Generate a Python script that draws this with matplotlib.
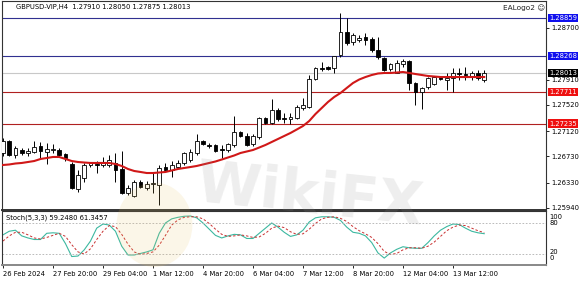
import matplotlib
matplotlib.use('Agg')
import matplotlib.pyplot as plt
import matplotlib.transforms as mtransforms
from matplotlib.patches import Ellipse
import numpy as np

# GBPUSD H4 candles (open, high, low, close)
opens = [1.26783, 1.26967, 1.26752, 1.26829, 1.26783, 1.26798, 1.26890, 1.26798, 1.26829, 1.26829,
         1.26768, 1.26614, 1.26231, 1.26400, 1.26599, 1.26614, 1.26599, 1.26599, 1.26630, 1.26538,
         1.26170, 1.26124, 1.26338, 1.26246, 1.26308, 1.26292, 1.26568, 1.26522, 1.26568, 1.26630,
         1.26676, 1.26783, 1.26967, 1.26906, 1.26906, 1.26844, 1.26829, 1.26906, 1.27105, 1.27044,
         1.26921, 1.27028, 1.27320, 1.27243, 1.27442, 1.27320, 1.27304, 1.27320, 1.27473, 1.27488,
         1.27918, 1.28086, 1.28102, 1.28086, 1.28286, 1.28638, 1.28485, 1.28516, 1.28562, 1.28531,
         1.28362, 1.28240, 1.28071, 1.28010, 1.28148, 1.28194, 1.27856, 1.27718, 1.27795, 1.27841,
         1.27948, 1.27902, 1.27933, 1.28010, 1.27994, 1.27948, 1.28010, 1.27910]
highs = [1.27013, 1.26982, 1.26890, 1.26860, 1.26860, 1.26967, 1.26952, 1.26936, 1.26921, 1.26860,
         1.26783, 1.26645, 1.26522, 1.26630, 1.26645, 1.26660, 1.26722, 1.26752, 1.26783, 1.26814,
         1.26292, 1.26369, 1.26369, 1.26354, 1.26476, 1.26599, 1.26630, 1.26660, 1.26676, 1.26798,
         1.26844, 1.27074, 1.26982, 1.26936, 1.26921, 1.26906, 1.26936, 1.27350, 1.27120, 1.27090,
         1.27074, 1.27335, 1.27335, 1.27611, 1.27473, 1.27396, 1.27396, 1.27519, 1.27626, 1.27979,
         1.28102, 1.28178, 1.28117, 1.28270, 1.28930, 1.28853, 1.28623, 1.28592, 1.28623, 1.28562,
         1.28562, 1.28255, 1.28163, 1.28209, 1.28224, 1.28209, 1.27872, 1.27795, 1.27948, 1.27964,
         1.27964, 1.28010, 1.28086, 1.28086, 1.28102, 1.28040, 1.28056, 1.28050]
lows = [1.26737, 1.26737, 1.26706, 1.26752, 1.26737, 1.26783, 1.26706, 1.26614, 1.26783, 1.26737,
        1.26660, 1.26231, 1.26185, 1.26338, 1.26568, 1.26476, 1.26568, 1.26568, 1.26338, 1.26154,
        1.26139, 1.26108, 1.26246, 1.26216, 1.26170, 1.25986, 1.26507, 1.26415, 1.26553, 1.26599,
        1.26645, 1.26752, 1.26906, 1.26860, 1.26798, 1.26706, 1.26798, 1.26875, 1.27028, 1.26890,
        1.26890, 1.26998, 1.27228, 1.27228, 1.27274, 1.27243, 1.27228, 1.27304, 1.27442, 1.27473,
        1.27902, 1.28040, 1.28056, 1.28010, 1.28255, 1.28439, 1.28439, 1.28485, 1.28439, 1.28332,
        1.28224, 1.28040, 1.28040, 1.28010, 1.28102, 1.27749, 1.27519, 1.27458, 1.27765, 1.27826,
        1.27902, 1.27749, 1.27718, 1.27902, 1.27902, 1.27902, 1.27902, 1.27875]
closes = [1.26967, 1.26752, 1.26860, 1.26783, 1.26814, 1.26875, 1.26814, 1.26844, 1.26844, 1.26752,
          1.26706, 1.26246, 1.26446, 1.26599, 1.26630, 1.26599, 1.26645, 1.26676, 1.26522, 1.26170,
          1.26246, 1.26338, 1.26262, 1.26308, 1.26323, 1.26553, 1.26522, 1.26599, 1.26630, 1.26783,
          1.26798, 1.26967, 1.26921, 1.26890, 1.26814, 1.26829, 1.26921, 1.27105, 1.27044, 1.26906,
          1.27044, 1.27320, 1.27243, 1.27442, 1.27304, 1.27304, 1.27335, 1.27488, 1.27519, 1.27918,
          1.28086, 1.28071, 1.28071, 1.28270, 1.28638, 1.28470, 1.28592, 1.28546, 1.28516, 1.28362,
          1.28255, 1.28056, 1.28148, 1.28163, 1.28194, 1.27856, 1.27718, 1.27780, 1.27933, 1.27948,
          1.27918, 1.27933, 1.28010, 1.27994, 1.27985, 1.28010, 1.27933, 1.28013]

# red moving average
ma = [1.26599, 1.26607, 1.26622, 1.26630, 1.26645, 1.26660, 1.26691, 1.26706, 1.26722, 1.26722,
      1.26691, 1.26660, 1.26645, 1.26637, 1.26630, 1.26630, 1.26630, 1.26630, 1.26614, 1.26584,
      1.26538, 1.26507, 1.26492, 1.26476, 1.26476, 1.26484, 1.26492, 1.26515, 1.26538, 1.26553,
      1.26568, 1.26584, 1.26607, 1.26630, 1.26653, 1.26683, 1.26714, 1.26745, 1.26783, 1.26806,
      1.26829, 1.26867, 1.26906, 1.26952, 1.26998, 1.27044, 1.27090, 1.27143, 1.27197, 1.27274,
      1.27381, 1.27473, 1.27565, 1.27642, 1.27703, 1.27780, 1.27856, 1.27910, 1.27948, 1.27979,
      1.28002, 1.28010, 1.28010, 1.28017, 1.28025, 1.28010, 1.27994, 1.27979, 1.27964, 1.27956,
      1.27948, 1.27948, 1.27948, 1.27948, 1.27948, 1.27948, 1.27948, 1.27948]

# Stochastic (5,3,3)
stoch_k = [57, 64, 66, 55, 51, 48, 48, 60, 61, 60, 40, 15, 16, 28, 45, 70, 78, 76, 64, 35,
           18, 18, 21, 24, 28, 60, 80, 88, 91, 93, 93.5, 90, 80, 68, 56, 51, 55, 58, 57, 50,
           50, 60, 70, 80, 72, 62, 54, 57, 66, 82, 90, 92, 92, 91, 85, 72, 62, 60, 55, 42,
           22, 12, 22, 29, 34, 32, 31, 31, 42, 55, 66, 73, 78, 77, 70, 64, 61, 59.248]
stoch_d = [45, 55, 62, 62, 57, 51, 49, 52, 56, 60, 54, 38, 24, 20, 30, 48, 64, 75, 73, 58,
           39, 24, 19, 21, 24, 37, 56, 76, 86, 91, 92, 92, 88, 79, 68, 58, 54, 55, 57, 55,
           52, 53, 60, 70, 74, 71, 63, 58, 59, 68, 79, 88, 91, 92, 89, 83, 73, 65, 59, 52,
           40, 25, 19, 21, 28, 32, 32, 31, 35, 43, 54, 65, 72, 76, 75, 70, 65, 61.3457]

date_pos = [0, 8, 16, 24, 32, 40, 48, 56, 64, 72]
date_labels = ['26 Feb 2024', '27 Feb 20:00', '29 Feb 04:00', '1 Mar 12:00', '4 Mar 20:00',
               '6 Mar 04:00', '7 Mar 12:00', '8 Mar 20:00', '12 Mar 04:00', '13 Mar 12:00']

price_ticks = [1.28700, 1.27910, 1.27520, 1.27120, 1.26730, 1.26330, 1.25940]
blue_levels = [1.28859, 1.28268]
red_levels = [1.27711, 1.27235]
last_price = 1.28013

fs = 4.9
fig = plt.figure(figsize=(5.83, 2.81), dpi=100)
ax = fig.add_axes([0.0034, 0.2527, 0.9331, 0.7438])
ax2 = fig.add_axes([0.0034, 0.0569, 0.9331, 0.1922], sharex=ax)

x = np.arange(len(opens))
o = np.array(opens); c = np.array(closes)
ax.vlines(x, lows, highs, color='black', lw=0.7, zorder=2)
up = c >= o
body = np.maximum(np.abs(c - o), 0.00003)
ax.bar(x[up], body[up], bottom=np.minimum(o, c)[up], width=0.58, color='white',
       edgecolor='black', lw=0.6, zorder=3)
ax.bar(x[~up], body[~up], bottom=np.minimum(o, c)[~up], width=0.58, color='black',
       edgecolor='black', lw=0.6, zorder=3)
ax.plot(x, ma, color='#d01818', lw=1.5, zorder=4)

for lv in blue_levels:
    ax.axhline(lv, color='#303090', lw=0.8, zorder=1)
for lv in red_levels:
    ax.axhline(lv, color='#b02020', lw=0.8, zorder=1)
ax.axhline(last_price, color='#c8c8c8', lw=0.8, zorder=1)

ax.set_xlim(-0.16, 86.88)
ax.set_ylim(1.25909, 1.29114)
ax.yaxis.tick_right()
ax.set_yticks(price_ticks)
ax.set_yticklabels(['%.5f' % t for t in price_ticks])
ax.tick_params(axis='y', labelsize=fs, length=2, width=0.6, pad=1.5)
ax.tick_params(axis='x', bottom=False, labelbottom=False)
for s in ax.spines.values():
    s.set_linewidth(0.8)
    s.set_color('#333333')
ax.spines['bottom'].set_linewidth(1.4)

tr = mtransforms.blended_transform_factory(ax.transAxes, ax.transData)
for lv in blue_levels:
    ax.text(1.006, lv, '%.5f' % lv, transform=tr, fontsize=fs, color='white', va='center',
            ha='left', bbox=dict(boxstyle='square,pad=0.15', fc='#1010ee', ec='none'), zorder=6)
for lv in red_levels:
    ax.text(1.006, lv, '%.5f' % lv, transform=tr, fontsize=fs, color='white', va='center',
            ha='left', bbox=dict(boxstyle='square,pad=0.15', fc='#ee1010', ec='none'), zorder=6)
ax.text(1.006, last_price, '%.5f' % last_price, transform=tr, fontsize=fs, color='white',
        va='center', ha='left', bbox=dict(boxstyle='square,pad=0.15', fc='black', ec='none'),
        zorder=6)

ax.text(0.025, 0.985, 'GBPUSD-VIP,H4  1.27910 1.28050 1.27875 1.28013', transform=ax.transAxes,
        fontsize=fs, va='top', ha='left')
ax.text(0.998, 0.985, 'EALogo2 \u263a', transform=ax.transAxes, fontsize=fs + 0.4, va='top',
        ha='right', color='#222222')

# stochastic panel
ax2.plot(x, stoch_k, color='#3cb8a0', lw=0.8)
ax2.plot(x, stoch_d, color='#c83030', lw=0.7, ls=(0, (2.5, 2)))
ax2.axhline(80, color='#b0b0b0', lw=0.6, ls=(0, (2, 2)))
ax2.axhline(20, color='#b0b0b0', lw=0.6, ls=(0, (2, 2)))
ax2.set_ylim(-1.4, 103.2)
ax2.set_yticks([])
tr2 = mtransforms.blended_transform_factory(ax2.transAxes, ax2.transData)
ax2.text(1.006, 92, '100', transform=tr2, fontsize=fs, va='center', ha='left')
ax2.text(1.006, 79, '80', transform=tr2, fontsize=fs, va='center', ha='left')
ax2.text(1.006, 23, '20', transform=tr2, fontsize=fs, va='center', ha='left')
ax2.text(1.006, 12, '0', transform=tr2, fontsize=fs, va='center', ha='left')
ax2.text(0.008, 0.93, 'Stoch(5,3,3) 59.2480 61.3457', transform=ax2.transAxes, fontsize=fs,
         va='top', ha='left')
ax2.set_xticks(date_pos)
ax2.set_xticklabels(date_labels)
ax2.tick_params(axis='x', labelsize=fs, length=2.5, width=0.6, pad=1.5)
for lbl in ax2.get_xticklabels():
    lbl.set_ha('left')
for s in ax2.spines.values():
    s.set_linewidth(0.8)
    s.set_color('#333333')
ax2.spines['bottom'].set_color('#888888')
ax2.spines['bottom'].set_linewidth(1.4)

# WikiFX watermark
fig.text(0.53, 0.30, 'WikiFX', fontsize=42, fontweight='bold', color='#909090', alpha=0.15,
         ha='center', va='center', rotation=-6, zorder=20)
fig.patches.append(Ellipse((0.265, 0.20), 0.13, 0.30, transform=fig.transFigure,
                           fc='#e8c060', ec='none', alpha=0.14, zorder=20))

fig.savefig('out.png', dpi=100)
